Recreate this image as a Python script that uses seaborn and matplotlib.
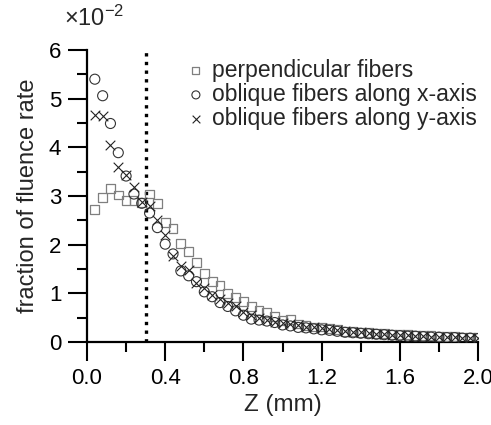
import numpy as np
import pandas as pd
import matplotlib
matplotlib.use('Agg')
import matplotlib.pyplot as plt
import seaborn as sns
from matplotlib.ticker import MultipleLocator

# depth positions (mm)
z = [0.04, 0.08, 0.12, 0.16, 0.20, 0.24, 0.28, 0.32, 0.36, 0.40,
     0.44, 0.48, 0.52, 0.56, 0.60, 0.64, 0.68, 0.72, 0.76, 0.80,
     0.84, 0.88, 0.92, 0.96, 1.00, 1.04, 1.08, 1.12, 1.16, 1.20,
     1.24, 1.28, 1.32, 1.36, 1.40, 1.44, 1.48, 1.52, 1.56, 1.60,
     1.64, 1.68, 1.72, 1.76, 1.80, 1.84, 1.88, 1.92, 1.96, 2.00]

# fraction of fluence rate, in units of 1e-2
perpendicular = [2.73, 2.97, 3.16, 3.02, 2.90, 2.90, 2.86, 3.04, 2.85, 2.45,
                 2.34, 2.03, 1.86, 1.63, 1.40, 1.24, 1.16, 0.99, 0.91, 0.84,
                 0.73, 0.64, 0.60, 0.53, 0.44, 0.47, 0.37, 0.34, 0.31, 0.31,
                 0.28, 0.25, 0.22, 0.21, 0.20, 0.19, 0.18, 0.17, 0.16, 0.15,
                 0.15, 0.14, 0.13, 0.13, 0.12, 0.12, 0.11, 0.10, 0.10, 0.09]
oblique_x = [5.40, 5.06, 4.49, 3.89, 3.41, 3.04, 2.85, 2.65, 2.35, 2.01,
             1.81, 1.46, 1.36, 1.24, 1.03, 0.93, 0.81, 0.73, 0.64, 0.55,
             0.47, 0.45, 0.43, 0.40, 0.35, 0.33, 0.30, 0.29, 0.27, 0.25,
             0.24, 0.22, 0.20, 0.19, 0.18, 0.17, 0.16, 0.15, 0.14, 0.13,
             0.12, 0.12, 0.11, 0.10, 0.10, 0.09, 0.09, 0.08, 0.08, 0.07]
oblique_y = [4.66, 4.64, 4.05, 3.60, 3.43, 3.18, 2.88, 2.80, 2.51, 2.20,
             1.77, 1.56, 1.48, 1.21, 1.10, 0.97, 0.88, 0.80, 0.73, 0.62,
             0.55, 0.50, 0.46, 0.42, 0.39, 0.37, 0.34, 0.31, 0.30, 0.28,
             0.26, 0.24, 0.22, 0.21, 0.20, 0.18, 0.17, 0.16, 0.15, 0.14,
             0.14, 0.13, 0.12, 0.11, 0.11, 0.10, 0.10, 0.09, 0.09, 0.08]

labels = ['perpendicular fibers', 'oblique fibers along x-axis', 'oblique fibers along y-axis']
z_boundary = 0.3

sns.set_style('white')
plt.rcParams['font.family'] = ['Liberation Sans', 'DejaVu Sans']

fig = plt.figure(figsize=(4.91, 4.25), dpi=100)
ax = fig.add_axes([87 / 491, 1 - 342 / 425, (478 - 87) / 491, (342 - 50) / 425])

df = pd.DataFrame({'z': z, 'perp': perpendicular, 'obx': oblique_x, 'oby': oblique_y})

sns.scatterplot(data=df, x='z', y='perp', marker='s', s=40, facecolor='none',
                edgecolor='#7f7f7f', linewidth=0.9, label=labels[0], ax=ax, zorder=3)
sns.scatterplot(data=df, x='z', y='obx', marker='o', s=52, facecolor='none',
                edgecolor='#333333', linewidth=0.8, label=labels[1], ax=ax, zorder=3)
sns.scatterplot(data=df, x='z', y='oby', marker='x', s=48, color='#222222',
                linewidth=0.8, label=labels[2], ax=ax, zorder=3)

ax.axvline(z_boundary, color='black', lw=2.4, ls=(0, (1.0, 1.6)), zorder=2)

ax.set_xlim(0, 2.0)
ax.set_ylim(0, 6)
ax.xaxis.set_major_locator(MultipleLocator(0.4))
ax.xaxis.set_minor_locator(MultipleLocator(0.2))
ax.yaxis.set_major_locator(MultipleLocator(1))
ax.yaxis.set_minor_locator(MultipleLocator(0.5))
ax.set_xticklabels([f'{v:.1f}' for v in ax.get_xticks()])
ax.set_yticklabels([f'{v:.0f}' for v in ax.get_yticks()])

for s in ['top', 'right']:
    ax.spines[s].set_visible(False)
for s in ['left', 'bottom']:
    ax.spines[s].set_linewidth(1.6)
    ax.spines[s].set_color('black')

ax.tick_params(which='major', direction='out', length=13.5, width=1.5,
               labelsize=16, colors='black', pad=5)
ax.tick_params(which='minor', direction='out', length=7, width=1.5, colors='black')
ax.tick_params(axis='x', which='both', bottom=True)
ax.tick_params(axis='y', which='both', left=True)

ax.set_xlabel('Z (mm)', fontsize=17.5, labelpad=4)
ax.set_ylabel('fraction of fluence rate', fontsize=17, labelpad=7)

fig.text(64 / 491, 1 - 18 / 425, r'$\mathregular{\times10^{-2}}$', fontsize=17,
         va='center', ha='left')

leg = ax.legend(loc='upper left', bbox_to_anchor=(0.258, 0.97), frameon=False,
                fontsize=16.5, handlelength=0.7, handletextpad=0.35,
                labelspacing=0.05, markerscale=0.8, borderaxespad=0, borderpad=0)

fig.savefig('out.png', dpi=100)
